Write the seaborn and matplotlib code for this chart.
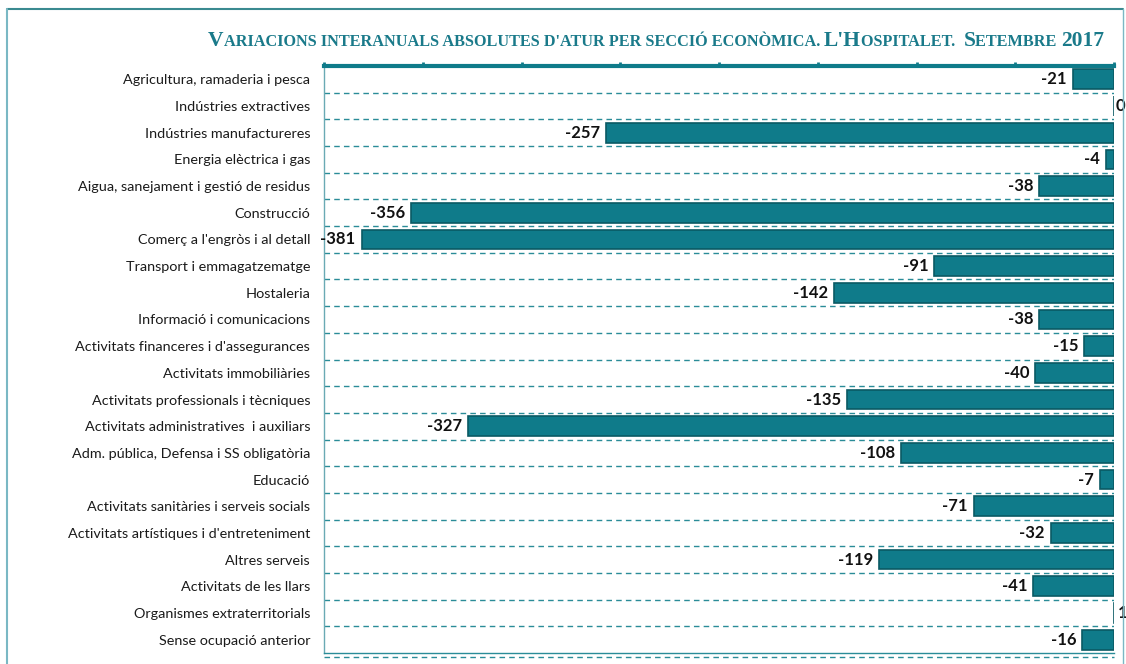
import numpy as np
import matplotlib
matplotlib.use("Agg")
import matplotlib.pyplot as plt
import seaborn as sns
import pandas as pd

#%% data
sectors = [
    "Agricultura, ramaderia i pesca",
    "Indústries extractives",
    "Indústries manufactureres",
    "Energia elèctrica i gas",
    "Aigua, sanejament i gestió de residus",
    "Construcció",
    "Comerç a l'engròs i al detall",
    "Transport i emmagatzematge",
    "Hostaleria",
    "Informació i comunicacions",
    "Activitats financeres i d'assegurances",
    "Activitats immobiliàries",
    "Activitats professionals i tècniques",
    "Activitats administratives  i auxiliars",
    "Adm. pública, Defensa i SS obligatòria",
    "Educació",
    "Activitats sanitàries i serveis socials",
    "Activitats artístiques i d'entreteniment",
    "Altres serveis",
    "Activitats de les llars",
    "Organismes extraterritorials",
    "Sense ocupació anterior",
]
variation = [-21, 0, -257, -4, -38, -356, -381, -91, -142, -38, -15, -40,
             -135, -327, -108, -7, -71, -32, -119, -41, 1, -16]
title_text = "Variacions interanuals absolutes d'atur per secció econòmica. L'Hospitalet.  Setembre 2017"

df = pd.DataFrame({"sector": sectors, "var": variation})

teal = "#0f7b8a"
edge = "#0a5a64"
line_teal = "#2a8c98"

#%% draw
sns.set_style("white")
plt.rcParams['font.family'] = ['Lato', 'DejaVu Sans']

fig = plt.figure(figsize=(11.26, 6.64), dpi=100)
W, H = 1126, 664
ax = fig.add_axes([324 / W, 1 - 653 / H, (1114 - 324) / W, (653 - 66) / H])

sns.barplot(data=df, x="var", y="sector", orient="h", color=teal,
            edgecolor=edge, linewidth=1.2, width=0.74, saturation=1, ax=ax)

ax.set_xlim(-400, 0)
ax.set_ylim(len(sectors) - 0.5, -0.5)
ax.set_xlabel("")
ax.set_ylabel("")
ax.xaxis.tick_top()
ax.set_xticks(np.arange(-400, 1, 50))
ax.set_xticklabels([])
ax.tick_params(axis="x", direction="out", length=3, width=2, color=teal, pad=0)
ax.tick_params(axis="y", length=0, pad=10, labelsize=10.4, labelcolor="#1a1a1a")

ax.spines["right"].set_visible(False)
ax.spines["top"].set_color(teal)
ax.spines["top"].set_linewidth(3)
ax.spines["left"].set_color("#6aaab4")
ax.spines["left"].set_linewidth(1)
ax.spines["bottom"].set_color(line_teal)
ax.spines["bottom"].set_linewidth(1)

for b in np.arange(0.5, len(sectors) - 0.5, 1.0):
    ax.axhline(b, color=line_teal, lw=1, ls=(0, (4, 3)), zorder=0)

for i, v in enumerate(variation):
    if v < 0:
        ax.text(v - 3, i, str(v), ha="right", va="center", fontsize=12,
                fontweight="bold", color="#111111")
    else:
        ax.text(v + 0.8, i, str(v), ha="left", va="center", fontsize=12,
                fontweight="bold", color="#111111", clip_on=False)

# outer frame
fig.add_artist(plt.Line2D([7 / W, 1123 / W], [1 - 9 / H, 1 - 9 / H],
                          color="#3a8a90", lw=1.5, transform=fig.transFigure))
fig.add_artist(plt.Line2D([7 / W, 7 / W], [1 - 9 / H, 0],
                          color="#7ab8c4", lw=1.5, transform=fig.transFigure))
fig.add_artist(plt.Line2D([1123 / W, 1123 / W], [1 - 9 / H, 0],
                          color="#7ab8c4", lw=1, transform=fig.transFigure))
fig.add_artist(plt.Line2D([324 / W, 1114 / W], [1 - 657 / H, 1 - 657 / H],
                          color=line_teal, lw=1, ls=(0, (4, 3)),
                          transform=fig.transFigure))

# small-caps title built piece by piece
renderer = fig.canvas.get_renderer()
pieces = []
cur, cur_big = "", None
for ch in title_text:
    big = ch.isupper() or ch.isdigit()
    if ch in " .'":
        big = cur_big if cur_big is not None else False
    if cur_big is None or big == cur_big:
        cur += ch
        cur_big = big
    else:
        pieces.append((cur, cur_big))
        cur, cur_big = ch, big
pieces.append((cur, cur_big))

tfont = dict(family=["Liberation Serif", "DejaVu Serif"], fontweight="bold",
             color="#1a7a8a")
texts = []
for s, big in pieces:
    t = fig.text(0, 1 - 46 / H, s.upper(), fontsize=15.5 if big else 11.7,
                 va="baseline", ha="left", **tfont)
    texts.append(t)
widths = [t.get_window_extent(renderer).width / W for t in texts]
pos = 656 / W - sum(widths) / 2
for t, w in zip(texts, widths):
    t.set_x(pos)
    pos += w

fig.savefig("out.png", dpi=100)
